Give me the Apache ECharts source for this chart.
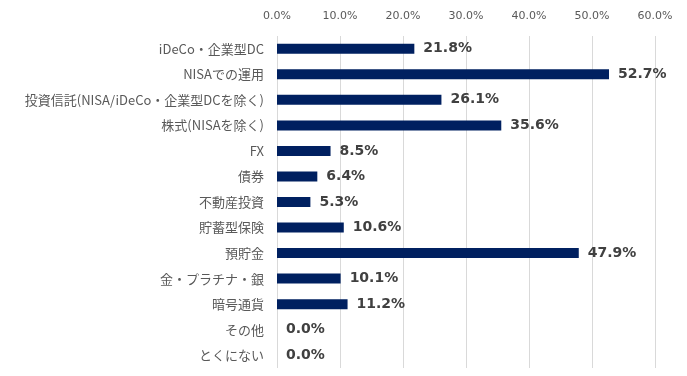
<!DOCTYPE html>
<html><head><meta charset="utf-8">
<script src="https://cdn.jsdelivr.net/npm/echarts@6/dist/echarts.min.js"></script>
<style>html,body{margin:0;padding:0;background:#fff}#c{width:687px;height:376px}</style>
</head><body><div id="c"></div>
<script>
const categories = ["iDeCo・企業型DC","NISAでの運用","投資信託(NISA/iDeCo・企業型DCを除く)","株式(NISAを除く)","FX","債券","不動産投資","貯蓄型保険","預貯金","金・プラチナ・銀","暗号通貨","その他","とくにない"];
const values = [21.8,52.7,26.1,35.6,8.5,6.4,5.3,10.6,47.9,10.1,11.2,0.0,0.0];
const ticks = [0,10,20,30,40,50,60];

const chart = echarts.init(document.getElementById('c'), null, {renderer:'canvas'});
chart.setOption({
  animation:false,
  grid:{left:277,right:32,top:36,bottom:8,containLabel:false},
  xAxis:{type:'value',position:'top',min:ticks[0],max:ticks[ticks.length-1],interval:10,
    axisLine:{show:false},axisTick:{show:false},
    splitLine:{lineStyle:{color:'#d9d9d9',width:1}},
    axisLabel:{formatter:v=>v.toFixed(1)+'%',color:'#595959',fontSize:11,margin:14,fontFamily:'DejaVu Sans'}},
  yAxis:{type:'category',inverse:true,data:categories,
    axisLine:{show:false},axisTick:{show:false},
    axisLabel:{color:'#595959',fontSize:13,margin:13,fontFamily:'Noto Sans CJK JP'}},
  series:[{type:'bar',data:values,barWidth:10,itemStyle:{color:'#002060'},
    label:{show:true,position:'right',distance:9,formatter:p=>p.value.toFixed(1)+'%',
      color:'#404040',fontSize:14,fontWeight:'bold',fontFamily:'DejaVu Sans'}}]
});
</script></body></html>
